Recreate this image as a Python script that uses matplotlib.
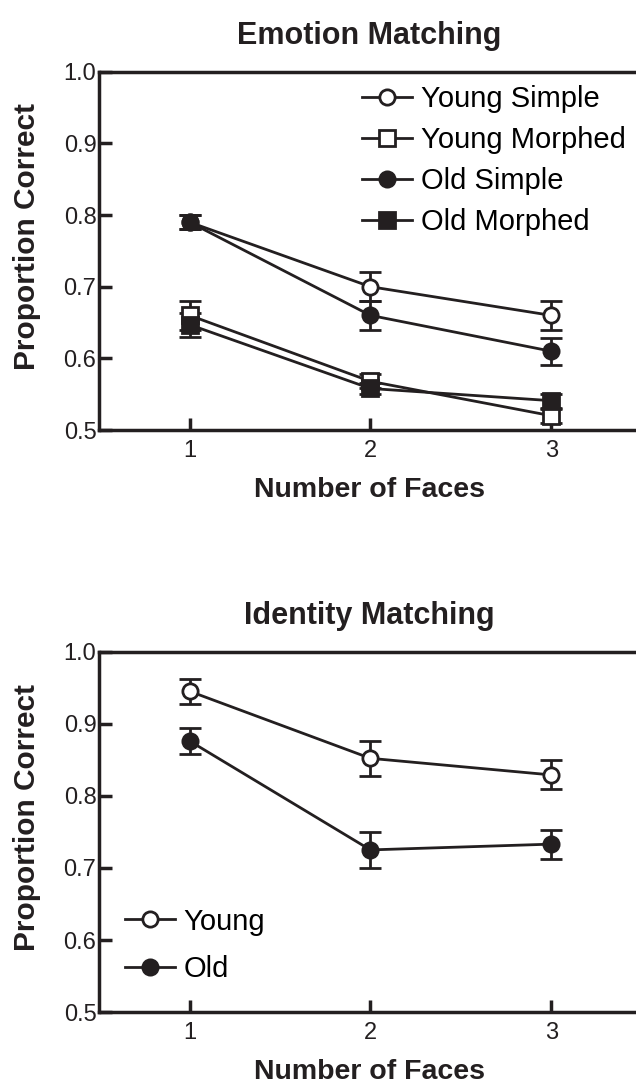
import matplotlib.pyplot as plt

plt.rcParams['font.family'] = ['Liberation Sans', 'DejaVu Sans']

# x positions (number of faces)
faces = [1, 2, 3]

# Emotion matching
emo_young_simple = [0.79, 0.70, 0.66]
emo_young_simple_err = [0.010, 0.020, 0.020]
emo_young_morphed = [0.66, 0.568, 0.52]
emo_young_morphed_err = [0.020, 0.010, 0.010]
emo_old_simple = [0.79, 0.66, 0.61]
emo_old_simple_err = [0.010, 0.020, 0.019]
emo_old_morphed = [0.647, 0.558, 0.541]
emo_old_morphed_err = [0.017, 0.008, 0.010]

# Identity matching
id_young = [0.945, 0.852, 0.829]
id_young_err = [0.017, 0.024, 0.020]
id_old = [0.876, 0.725, 0.733]
id_old_err = [0.018, 0.025, 0.020]

LINE_COLOUR = '#231f20'
TICK_FS = 17
LABEL_FS = 20.5
YLABEL_FS = 21.5
TITLE_FS = 22
LEGEND_FS = 21


def series(ax, y, err, marker, filled, label, ms=11):
    ax.errorbar(faces, y, yerr=err, color=LINE_COLOUR, lw=2,
                marker=marker, ms=ms, mew=2, mec=LINE_COLOUR,
                mfc=LINE_COLOUR if filled else 'white',
                ecolor=LINE_COLOUR, elinewidth=2, capsize=8, capthick=2.5,
                label=label, clip_on=False, zorder=3)


def style_axes(ax, title):
    ax.set_xlim(0.5, 3.49)
    ax.set_ylim(0.5, 1.0)
    ax.set_xticks(faces)
    ax.set_yticks([0.5, 0.6, 0.7, 0.8, 0.9, 1.0])
    ax.set_yticklabels(['0.5', '0.6', '0.7', '0.8', '0.9', '1.0'])
    ax.spines['right'].set_visible(False)
    for s in ['left', 'bottom', 'top']:
        ax.spines[s].set_linewidth(2.5)
        ax.spines[s].set_color(LINE_COLOUR)
    ax.tick_params(axis='both', direction='in', length=9, width=2.5,
                   color=LINE_COLOUR, labelsize=TICK_FS, labelcolor=LINE_COLOUR)
    ax.tick_params(axis='x', pad=7)
    ax.tick_params(axis='y', pad=2)
    ax.set_xlabel('Number of Faces', fontsize=LABEL_FS, fontweight='bold',
                  labelpad=11, color=LINE_COLOUR)
    ax.set_ylabel('Proportion Correct', fontsize=YLABEL_FS, fontweight='bold',
                  color=LINE_COLOUR)
    ax.yaxis.set_label_coords(-0.108, 0.54)
    ax.set_title(title, fontsize=TITLE_FS, fontweight='bold', pad=20,
                 color=LINE_COLOUR)


fig = plt.figure(figsize=(6.36, 10.86), dpi=100)
fig.set_facecolor('white')

ax1 = fig.add_axes([0.156, 0.604, 0.850, 0.330])
series(ax1, emo_young_simple, emo_young_simple_err, 'o', False, 'Young Simple')
series(ax1, emo_young_morphed, emo_young_morphed_err, 's', False, 'Young Morphed')
series(ax1, emo_old_simple, emo_old_simple_err, 'o', True, 'Old Simple')
series(ax1, emo_old_morphed, emo_old_morphed_err, 's', True, 'Old Morphed')
style_axes(ax1, 'Emotion Matching')
h, l = ax1.get_legend_handles_labels()
h = [x[0] for x in h]
ax1.legend(h, l, loc='upper left', bbox_to_anchor=(0.487, 0.963), frameon=False,
           fontsize=LEGEND_FS, handlelength=1.7, handletextpad=0.3,
           labelspacing=0.45, borderpad=0, borderaxespad=0)

ax2 = fig.add_axes([0.156, 0.068, 0.850, 0.332])
series(ax2, id_young, id_young_err, 'o', False, 'Young')
series(ax2, id_old, id_old_err, 'o', True, 'Old')
style_axes(ax2, 'Identity Matching')
h, l = ax2.get_legend_handles_labels()
h = [x[0] for x in h]
ax2.legend(h, l, loc='upper left', bbox_to_anchor=(0.048, 0.29), frameon=False,
           fontsize=LEGEND_FS, handlelength=1.7, handletextpad=0.3,
           labelspacing=0.68, borderpad=0, borderaxespad=0)

fig.savefig('out.png', dpi=100, facecolor='white')
